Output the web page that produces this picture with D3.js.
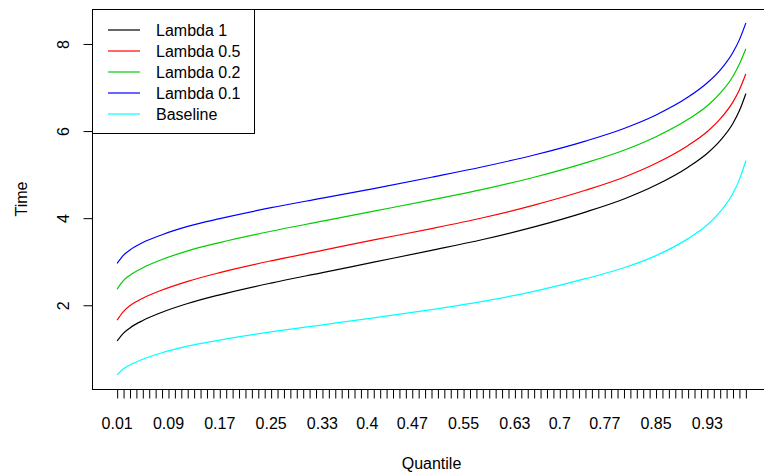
<!DOCTYPE html>
<html>
<head>
<meta charset="utf-8">
<script src="https://cdn.jsdelivr.net/npm/d3@7"></script>
<style>
  html, body { margin: 0; padding: 0; background: #fff; }
  svg { display: block; font-family: "Liberation Sans", Arial, Helvetica, sans-serif; }
</style>
</head>
<body>
<div id="chart"></div>
<script>
// Quantile plot - times by lambda
(function () {
  ///////////////////////////////////////////////////////////// ! Data
  // quantiles where the curves were read off the picture
  const quantiles = [0.01, 0.02, 0.03, 0.05, 0.08, 0.12, 0.17, 0.25, 0.33, 0.41, 0.5,
    0.58, 0.66, 0.74, 0.8, 0.85, 0.9, 0.93, 0.95, 0.97, 0.98, 0.99];

  const lambda1 = [1.18, 1.36, 1.48, 1.65, 1.84, 2.04, 2.24, 2.51, 2.75, 2.99, 3.26,
    3.51, 3.8, 4.14, 4.44, 4.76, 5.17, 5.49, 5.78, 6.18, 6.47, 6.86];
  const lambda05 = [1.66, 1.86, 1.99, 2.16, 2.35, 2.55, 2.75, 3.02, 3.26, 3.5, 3.76,
    4.01, 4.3, 4.64, 4.94, 5.26, 5.67, 5.99, 6.28, 6.67, 6.95, 7.31];
  const lambda02 = [2.37, 2.57, 2.69, 2.86, 3.05, 3.25, 3.44, 3.7, 3.93, 4.16, 4.42,
    4.66, 4.94, 5.27, 5.56, 5.87, 6.27, 6.58, 6.87, 7.26, 7.54, 7.89];
  const lambda01 = [2.96, 3.15, 3.27, 3.44, 3.62, 3.81, 3.99, 4.24, 4.46, 4.68, 4.94,
    5.18, 5.45, 5.77, 6.06, 6.37, 6.78, 7.11, 7.4, 7.81, 8.1, 8.48];
  const baseline = [0.4, 0.54, 0.63, 0.76, 0.91, 1.06, 1.2, 1.39, 1.55, 1.71, 1.9,
    2.09, 2.32, 2.61, 2.86, 3.14, 3.53, 3.85, 4.15, 4.57, 4.89, 5.32];

  const seriesNames = ["Lambda 1", "Lambda 0.5", "Lambda 0.2", "Lambda 0.1", "Baseline"];
  const seriesColors = ["#000000", "#FF0000", "#00CD00", "#0000FF", "#00FFFF"];
  const seriesValues = [lambda1, lambda05, lambda02, lambda01, baseline];

  // x axis: one tick per quantile index 1..99, only some labels fit
  const tickIndex = d3.range(1, 100);
  const labelIndex = [1, 9, 17, 25, 33, 40, 47, 55, 63, 70, 77, 85, 93];
  const labelText = ["0.01", "0.09", "0.17", "0.25", "0.33", "0.4", "0.47", "0.55",
    "0.63", "0.7", "0.77", "0.85", "0.93"];
  const yTicks = [2, 4, 6, 8];

  ///////////////////////////////////////////////////////////// ! Setup
  const fullWidth = 764;
  const fullHeight = 474;
  const plot = { left: 92, right: 771, top: 9, bottom: 389 };

  const svg = d3.select("#chart").append("svg")
    .attr("width", fullWidth)
    .attr("height", fullHeight);

  ///////////////////////////////////////////////////////////// ! Scales (R style 4% padding)
  const xPad = (99 - 1) * 0.04;
  const xScale = d3.scaleLinear()
    .domain([1 - xPad, 99 + xPad])
    .range([plot.left, plot.right]);

  const allVals = seriesValues.flat();
  const yMin = d3.min(allVals), yMax = d3.max(allVals);
  const yPad = (yMax - yMin) * 0.04;
  const yScale = d3.scaleLinear()
    .domain([yMin - yPad, yMax + yPad])
    .range([plot.bottom, plot.top]);

  ///////////////////////////////////////////////////////////// ! Lines
  const line = d3.line()
    .x((d) => xScale(d[0] * 100))
    .y((d) => yScale(d[1]))
    .curve(d3.curveMonotoneX);

  seriesValues.forEach((vals, i) => {
    svg.append("path")
      .datum(quantiles.map((q, j) => [q, vals[j]]))
      .attr("fill", "none")
      .attr("stroke", seriesColors[i])
      .attr("stroke-width", 1.2)
      .attr("d", line);
  });

  ///////////////////////////////////////////////////////////// ! Box and axes
  svg.append("rect")
    .attr("x", plot.left + 0.5)
    .attr("y", plot.top + 0.5)
    .attr("width", plot.right - plot.left)
    .attr("height", plot.bottom - plot.top)
    .attr("fill", "none")
    .attr("stroke", "#000");

  const xAxis = svg.append("g")
    .attr("transform", `translate(0,${plot.bottom + 0.5})`)
    .call(d3.axisBottom(xScale).tickValues(tickIndex).tickSize(9).tickFormat(""));
  xAxis.select(".domain").attr("d", `M${xScale(1)},0H${xScale(99)}`);
  xAxis.selectAll("line").attr("stroke", "#000");

  svg.append("g")
    .selectAll("text")
    .data(labelIndex)
    .enter()
    .append("text")
    .attr("x", (d) => xScale(d))
    .attr("y", 429)
    .attr("text-anchor", "middle")
    .style("font-size", "16px")
    .text((d, i) => labelText[i]);

  const yAxis = svg.append("g")
    .attr("transform", `translate(${plot.left + 0.5},0)`)
    .call(d3.axisLeft(yScale).tickValues(yTicks).tickSize(9).tickFormat(""));
  yAxis.select(".domain").attr("d", `M0,${yScale(2)}V${yScale(8)}`);

  yAxis.selectAll(".tick")
    .append("text")
    .attr("transform", "translate(-24,0) rotate(-90)")
    .attr("text-anchor", "middle")
    .attr("fill", "#000")
    .style("font-size", "16px")
    .text((d) => d);

  // axis titles
  svg.append("text")
    .attr("x", (plot.left + plot.right) / 2)
    .attr("y", 469)
    .attr("text-anchor", "middle")
    .style("font-size", "16px")
    .text("Quantile");

  svg.append("text")
    .attr("transform", `translate(27,${(plot.top + plot.bottom) / 2}) rotate(-90)`)
    .attr("text-anchor", "middle")
    .style("font-size", "16px")
    .text("Time");

  ///////////////////////////////////////////////////////////// ! Legend
  const legend = svg.append("g");
  legend.append("rect")
    .attr("x", plot.left + 0.5)
    .attr("y", plot.top + 0.5)
    .attr("width", 162)
    .attr("height", 124)
    .attr("fill", "#fff")
    .attr("stroke", "#000");

  seriesNames.forEach((name, i) => {
    const yRow = 30 + i * 21;
    legend.append("line")
      .attr("x1", 108).attr("x2", 140)
      .attr("y1", yRow).attr("y2", yRow)
      .attr("stroke", seriesColors[i])
      .attr("stroke-width", 1.2);
    legend.append("text")
      .attr("x", 156)
      .attr("y", yRow + 6)
      .style("font-size", "16px")
      .text(name);
  });
})();
</script>
</body>
</html>
